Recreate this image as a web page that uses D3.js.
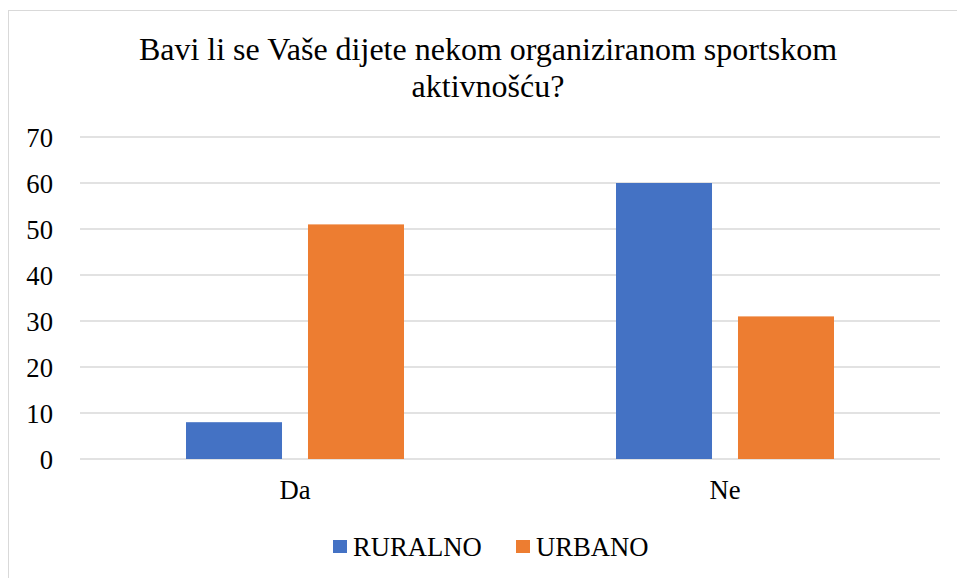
<!DOCTYPE html>
<html>
<head>
<meta charset="utf-8">
<script src="https://d3js.org/d3.v7.min.js"></script>
</head>
<body style="margin:0">
<script>
// data
let categories = ["Da", "Ne"];
let seriesNames = ["RURALNO", "URBANO"];
let ruralno = [8, 60];
let urbano = [51, 31];
let yTicks = [0, 10, 20, 30, 40, 50, 60, 70];
let colors = ["#4472C4", "#ED7D31"];

let width = 957, height = 578;
let plotLeft = 80, plotRight = 940, plotTop = 137, plotBottom = 459;
let serif = "Liberation Serif";

let svg = d3.select("body").append("svg")
    .attr("width", width)
    .attr("height", height);

// chart border
svg.append("rect")
    .attr("x", 8.5).attr("y", 10.5)
    .attr("width", 970).attr("height", 600)
    .attr("fill", "none")
    .attr("stroke", "#d9d9d9");

let x0 = d3.scaleBand().domain(categories).range([plotLeft, plotRight]);
let x1 = d3.scaleBand().domain(seriesNames)
    .range([106, 324])
    .paddingInner(0.213);
let y = d3.scaleLinear().domain([0, 70]).range([plotBottom, plotTop]);

// gridlines
svg.append("g")
    .selectAll("line").data(yTicks).enter().append("line")
    .attr("x1", plotLeft).attr("x2", plotRight)
    .attr("y1", d => y(d)).attr("y2", d => y(d))
    .attr("stroke", "#d9d9d9")
    .attr("stroke-width", 1.5);

// y axis labels
let yAxis = d3.axisLeft(y).tickValues(yTicks).tickSize(0).tickPadding(0);
let gy = svg.append("g")
    .attr("transform", "translate(53,0)")
    .call(yAxis)
    .attr("font-family", serif)
    .attr("font-size", 26.67);
gy.select(".domain").remove();
gy.selectAll("text")
    .attr("font-family", serif)
    .attr("fill", "#000")
    .attr("dy", "0.36em");

// x axis labels
let xAxis = d3.axisBottom(x0).tickSize(0).tickPadding(0);
let gx = svg.append("g")
    .attr("transform", "translate(0," + plotBottom + ")")
    .call(xAxis)
    .attr("font-family", serif)
    .attr("font-size", 26.67);
gx.select(".domain").remove();
gx.selectAll("text")
    .attr("font-family", serif)
    .attr("fill", "#000")
    .attr("y", 40).attr("dy", 0);

// bars
let rows = categories.map((c, i) => ({ cat: c, values: [ruralno[i], urbano[i]] }));
let groups = svg.selectAll("g.grp").data(rows).enter().append("g")
    .attr("class", "grp")
    .attr("transform", d => "translate(" + x0(d.cat) + ",0)");
groups.selectAll("rect")
    .data(d => d.values.map((v, j) => ({ name: seriesNames[j], v: v, c: colors[j] })))
    .enter().append("rect")
    .attr("x", d => x1(d.name))
    .attr("width", x1.bandwidth())
    .attr("y", d => y(d.v))
    .attr("height", d => y(0) - y(d.v))
    .attr("fill", d => d.c);

// title
let title = svg.append("text")
    .attr("text-anchor", "middle")
    .attr("font-family", serif)
    .attr("font-size", 32);
title.append("tspan").attr("x", 488).attr("y", 60)
    .text("Bavi li se Vaše dijete nekom organiziranom sportskom");
title.append("tspan").attr("x", 488).attr("y", 97)
    .text("aktivnošću?");

// legend
let legendX = [333, 516];
let legend = svg.selectAll("g.leg").data(seriesNames).enter().append("g")
    .attr("class", "leg")
    .attr("transform", (d, i) => "translate(" + legendX[i] + ",540)");
legend.append("rect")
    .attr("width", 14).attr("height", 13)
    .attr("fill", (d, i) => colors[i]);
legend.append("text")
    .attr("x", 20).attr("y", 16)
    .attr("font-family", serif)
    .attr("font-size", 26.67)
    .text(d => d);
</script>
</body>
</html>
